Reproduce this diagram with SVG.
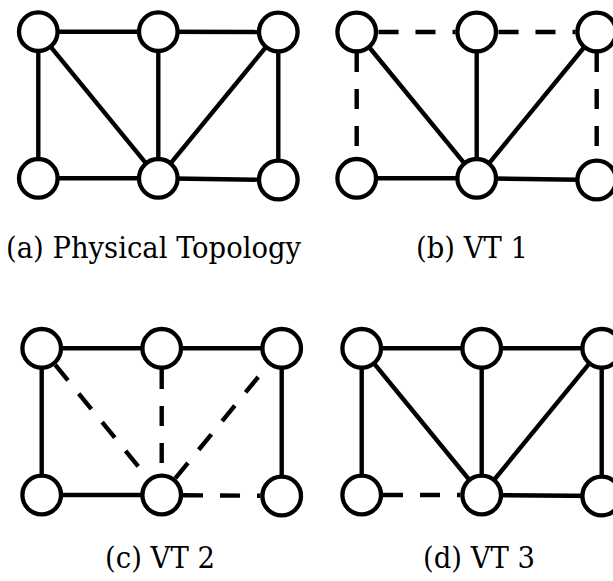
<svg xmlns="http://www.w3.org/2000/svg" width="613" height="581" viewBox="0 0 613 581">
  <style>
    .edge { stroke: #000; stroke-width: 4.4; fill: none; }
    .dash { stroke-dasharray: 20 17; }
    .node circle { fill: #fff; stroke: #000; stroke-width: 4.3; }
    .label { font-family: "DejaVu Serif Condensed", "DejaVu Serif", "Liberation Serif", serif; font-stretch: condensed; font-size: 30.5px; fill: #000; text-anchor: middle; }
  </style>
  <rect width="613" height="581" fill="#fff"/>

  <!-- (a) Physical Topology -->
  <g id="connectors-a">
    <line class="edge" x1="38.3" y1="31.7" x2="158.3" y2="31.7"/>
    <line class="edge" x1="158.3" y1="31.7" x2="278.3" y2="32"/>
    <line class="edge" x1="38.3" y1="31.7" x2="38.3" y2="178.3"/>
    <line class="edge" x1="38.3" y1="31.7" x2="158.3" y2="178.3"/>
    <line class="edge" x1="158.3" y1="31.7" x2="158.3" y2="178.3"/>
    <line class="edge" x1="278.3" y1="32" x2="158.3" y2="178.3"/>
    <line class="edge" x1="278.3" y1="32" x2="278.3" y2="180"/>
    <line class="edge" x1="38.3" y1="178.3" x2="158.3" y2="178.3"/>
    <line class="edge" x1="158.3" y1="178.3" x2="278.3" y2="180"/>
  </g>
  <g id="a-n1" class="node"><circle cx="38.3" cy="31.7" r="19.3"/></g>
  <g id="a-n2" class="node"><circle cx="158.3" cy="31.7" r="19.3"/></g>
  <g id="a-n3" class="node"><circle cx="278.3" cy="32" r="19.3"/></g>
  <g id="a-n4" class="node"><circle cx="38.3" cy="178.3" r="19.3"/></g>
  <g id="a-n5" class="node"><circle cx="158.3" cy="178.3" r="19.3"/></g>
  <g id="a-n6" class="node"><circle cx="278.3" cy="180" r="19.3"/></g>
  <text class="label" x="153.5" y="258">(a) Physical Topology</text>

  <!-- (b) VT 1 -->
  <g id="connectors-b">
    <line class="edge dash" x1="378.5" y1="32" x2="455.5" y2="32"/>
    <line class="edge dash" x1="498.5" y1="32" x2="575.5" y2="32"/>
    <line class="edge dash" x1="356.7" y1="52" x2="356.7" y2="158"/>
    <line class="edge dash" x1="596.7" y1="52" x2="596.7" y2="159"/>
    <line class="edge" x1="356.7" y1="32" x2="476.7" y2="178.3"/>
    <line class="edge" x1="476.7" y1="32" x2="476.7" y2="178.3"/>
    <line class="edge" x1="596.7" y1="32" x2="476.7" y2="178.3"/>
    <line class="edge" x1="356.7" y1="178.3" x2="476.7" y2="178.3"/>
    <line class="edge" x1="476.7" y1="178.3" x2="596.7" y2="180"/>
  </g>
  <g id="b-n1" class="node"><circle cx="356.7" cy="32" r="19.3"/></g>
  <g id="b-n2" class="node"><circle cx="476.7" cy="32" r="19.3"/></g>
  <g id="b-n3" class="node"><circle cx="596.7" cy="32" r="19.3"/></g>
  <g id="b-n4" class="node"><circle cx="356.7" cy="178.3" r="19.3"/></g>
  <g id="b-n5" class="node"><circle cx="476.7" cy="178.3" r="19.3"/></g>
  <g id="b-n6" class="node"><circle cx="596.7" cy="180" r="19.3"/></g>
  <text class="label" x="472" y="258">(b) VT 1</text>

  <!-- (c) VT 2 -->
  <g id="connectors-c">
    <line class="edge" x1="41.7" y1="348.3" x2="161.7" y2="348.3"/>
    <line class="edge" x1="161.7" y1="348.3" x2="281.7" y2="348.3"/>
    <line class="edge" x1="41.7" y1="348.3" x2="41.7" y2="495"/>
    <line class="edge" x1="281.7" y1="348.3" x2="281.7" y2="496"/>
    <line class="edge" x1="41.7" y1="495" x2="161.7" y2="495"/>
    <line class="edge dash" x1="55.3" y1="364.9" x2="148.1" y2="478.4"/>
    <line class="edge dash" x1="161.7" y1="369" x2="161.7" y2="474"/>
    <line class="edge dash" x1="175.3" y1="478.4" x2="268.1" y2="364.9"/>
    <line class="edge dash" x1="183" y1="495.2" x2="260.4" y2="495.8"/>
  </g>
  <g id="c-n1" class="node"><circle cx="41.7" cy="348.3" r="19.3"/></g>
  <g id="c-n2" class="node"><circle cx="161.7" cy="348.3" r="19.3"/></g>
  <g id="c-n3" class="node"><circle cx="281.7" cy="348.3" r="19.3"/></g>
  <g id="c-n4" class="node"><circle cx="41.7" cy="495" r="19.3"/></g>
  <g id="c-n5" class="node"><circle cx="161.7" cy="495" r="19.3"/></g>
  <g id="c-n6" class="node"><circle cx="281.7" cy="496" r="19.3"/></g>
  <text class="label" x="160" y="568">(c) VT 2</text>

  <!-- (d) VT 3 -->
  <g id="connectors-d">
    <line class="edge" x1="361.7" y1="348.3" x2="481.7" y2="348.3"/>
    <line class="edge" x1="481.7" y1="348.3" x2="601.7" y2="348.3"/>
    <line class="edge" x1="361.7" y1="348.3" x2="361.7" y2="495"/>
    <line class="edge" x1="361.7" y1="348.3" x2="481.7" y2="495"/>
    <line class="edge" x1="481.7" y1="348.3" x2="481.7" y2="495"/>
    <line class="edge" x1="601.7" y1="348.3" x2="481.7" y2="495"/>
    <line class="edge" x1="601.7" y1="348.3" x2="601.7" y2="496"/>
    <line class="edge dash" x1="383" y1="495" x2="460.4" y2="495"/>
    <line class="edge" x1="481.7" y1="495" x2="601.7" y2="496"/>
  </g>
  <g id="d-n1" class="node"><circle cx="361.7" cy="348.3" r="19.3"/></g>
  <g id="d-n2" class="node"><circle cx="481.7" cy="348.3" r="19.3"/></g>
  <g id="d-n3" class="node"><circle cx="601.7" cy="348.3" r="19.3"/></g>
  <g id="d-n4" class="node"><circle cx="361.7" cy="495" r="19.3"/></g>
  <g id="d-n5" class="node"><circle cx="481.7" cy="495" r="19.3"/></g>
  <g id="d-n6" class="node"><circle cx="601.7" cy="496" r="19.3"/></g>
  <text class="label" x="479" y="568">(d) VT 3</text>
</svg>
